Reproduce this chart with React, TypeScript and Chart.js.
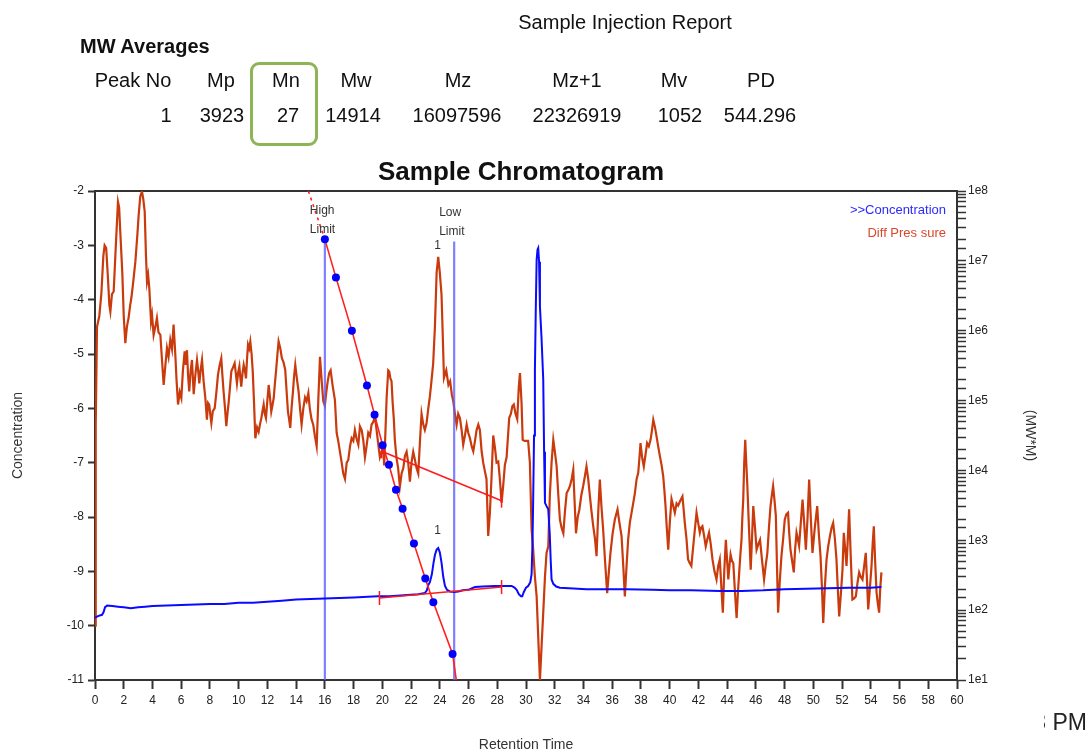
import React, { useEffect, useRef } from 'react';
import { Chart, registerables } from 'chart.js';

Chart.register(...registerables);

// ---------- data ----------
const dpTime = [
  0.00, 0.05, 0.14, 0.30, 0.44, 0.58, 0.67, 0.78, 0.90, 1.00,
  1.07, 1.18, 1.30, 1.45, 1.60, 1.68, 1.76, 1.90, 2.00, 2.11,
  2.22, 2.34, 2.45, 2.53, 2.65, 2.81, 2.95, 3.04, 3.15, 3.27,
  3.36, 3.46, 3.55, 3.62, 3.70, 3.78, 3.90, 3.97, 4.08, 4.20,
  4.31, 4.42, 4.55, 4.66, 4.78, 4.90, 5.01, 5.12, 5.24, 5.36,
  5.47, 5.59, 5.68, 5.78, 5.90, 6.01, 6.12, 6.24, 6.32, 6.40,
  6.48, 6.56, 6.66, 6.75, 6.87, 6.98, 7.10, 7.18, 7.26, 7.35,
  7.45, 7.56, 7.68, 7.79, 7.87, 7.95, 8.02, 8.10, 8.20, 8.33,
  8.45, 8.56, 8.68, 8.79, 8.87, 8.95, 9.05, 9.14, 9.22, 9.30,
  9.40, 9.49, 9.60, 9.72, 9.80, 9.88, 9.96, 10.05, 10.12, 10.18,
  10.27, 10.35, 10.43, 10.51, 10.58, 10.65, 10.73, 10.81, 10.90, 10.98,
  11.07, 11.16, 11.28, 11.39, 11.48, 11.58, 11.66, 11.74, 11.82, 11.90,
  12.00, 12.09, 12.18, 12.27, 12.35, 12.44, 12.52, 12.60, 12.70, 12.78,
  12.90, 13.01, 13.12, 13.24, 13.34, 13.43, 13.51, 13.59, 13.68, 13.78,
  13.86, 13.94, 14.05, 14.17, 14.27, 14.38, 14.50, 14.62, 14.73, 14.85,
  14.95, 15.07, 15.19, 15.30, 15.43, 15.55, 15.66, 15.78, 15.89, 16.00,
  16.10, 16.20, 16.30, 16.40, 16.55, 16.70, 16.82, 16.93, 17.05, 17.17,
  17.28, 17.40, 17.52, 17.63, 17.75, 17.86, 17.98, 18.09, 18.20, 18.33,
  18.44, 18.56, 18.68, 18.79, 18.90, 19.02, 19.14, 19.25, 19.37, 19.49,
  19.60, 19.72, 19.83, 19.95, 20.06, 20.13, 20.22, 20.30, 20.41, 20.48,
  20.56, 20.64, 20.72, 20.80, 20.87, 20.99, 21.10, 21.22, 21.34, 21.46,
  21.57, 21.69, 21.80, 21.92, 22.03, 22.15, 22.27, 22.38, 22.50, 22.62,
  22.73, 22.85, 22.96, 23.08, 23.20, 23.31, 23.42, 23.54, 23.66, 23.78,
  23.89, 24.00, 24.12, 24.20, 24.29, 24.45, 24.60, 24.72, 24.84, 24.94,
  25.05, 25.17, 25.28, 25.40, 25.52, 25.63, 25.75, 25.87, 25.98, 26.10,
  26.22, 26.33, 26.45, 26.56, 26.68, 26.79, 26.91, 27.02, 27.14, 27.25,
  27.37, 27.49, 27.60, 27.72, 27.84, 27.95, 28.07, 28.18, 28.30, 28.42,
  28.53, 28.65, 28.75, 28.83, 28.95, 29.05, 29.15, 29.27, 29.39, 29.50,
  29.58, 29.69, 29.77, 29.90, 30.04, 30.15, 30.27, 30.39, 30.50, 30.62,
  30.74, 30.85, 30.97, 31.08, 31.20, 31.32, 31.43, 31.55, 31.66, 31.78,
  31.90, 32.01, 32.13, 32.25, 32.36, 32.48, 32.60, 32.71, 32.83, 32.95,
  33.06, 33.18, 33.29, 33.38, 33.48, 33.60, 33.71, 33.85, 33.98, 34.10,
  34.21, 34.33, 34.45, 34.56, 34.68, 34.80, 34.91, 35.03, 35.14, 35.25,
  35.37, 35.50, 35.65, 35.77, 35.88, 36.03, 36.18, 36.28, 36.37, 36.50,
  36.65, 36.77, 36.88, 37.00, 37.11, 37.23, 37.35, 37.46, 37.58, 37.70,
  37.81, 37.90, 37.97, 38.08, 38.20, 38.32, 38.43, 38.55, 38.67, 38.77,
  38.86, 38.98, 39.09, 39.20, 39.32, 39.44, 39.55, 39.63, 39.71, 39.80,
  39.90, 40.01, 40.13, 40.25, 40.36, 40.48, 40.59, 40.74, 40.89, 40.97,
  41.05, 41.17, 41.28, 41.40, 41.51, 41.69, 41.87, 41.98, 42.10, 42.18,
  42.28, 42.40, 42.51, 42.63, 42.74, 42.86, 42.98, 43.12, 43.26, 43.38,
  43.49, 43.60, 43.70, 43.80, 43.91, 44.00, 44.08, 44.16, 44.24, 44.33,
  44.43, 44.55, 44.66, 44.75, 44.84, 44.92, 45.00, 45.06, 45.12, 45.19,
  45.26, 45.33, 45.40, 45.52, 45.64, 45.73, 45.82, 45.94, 46.05, 46.17,
  46.29, 46.43, 46.57, 46.68, 46.80, 46.91, 47.02, 47.11, 47.20, 47.30,
  47.39, 47.47, 47.55, 47.66, 47.78, 47.90, 48.01, 48.12, 48.24, 48.32,
  48.41, 48.52, 48.64, 48.73, 48.83, 48.92, 49.01, 49.13, 49.25, 49.36,
  49.48, 49.60, 49.71, 49.82, 49.94, 50.10, 50.27, 50.38, 50.50, 50.60,
  50.69, 50.80, 50.92, 51.03, 51.15, 51.27, 51.38, 51.50, 51.61, 51.70,
  51.80, 51.92, 52.03, 52.12, 52.22, 52.31, 52.40, 52.49, 52.60, 52.72,
  52.84, 52.96, 53.08, 53.19, 53.30, 53.42, 53.54, 53.65, 53.74, 53.82,
  53.94, 54.05, 54.13, 54.21, 54.30, 54.40, 54.49, 54.58, 54.66, 54.74,
];
const dpValue = [
  -10.0, -6.3, -4.5, -4.3, -3.9, -3.2, -3.0, -3.05, -3.6, -4.1,
  -4.22, -3.9, -3.85, -3.0, -2.2, -2.3, -2.75, -3.5, -4.3, -4.8,
  -4.5, -4.33, -4.1, -3.97, -3.7, -3.3, -2.8, -2.44, -2.1, -2.01,
  -2.15, -2.38, -3.2, -3.67, -3.55, -3.79, -4.4, -4.28, -4.65, -4.5,
  -4.34, -4.6, -4.65, -5.1, -5.57, -5.2, -4.89, -5.05, -4.74, -4.91,
  -4.46, -5.01, -5.5, -5.93, -5.7, -5.81, -5.3, -4.95, -5.2, -4.93,
  -5.4, -5.69, -5.3, -5.11, -5.74, -5.4, -5.11, -5.3, -5.54, -5.3,
  -5.11, -5.5, -5.81, -6.21, -5.9, -5.93, -6.1, -6.27, -6.05, -6.0,
  -5.7, -5.38, -5.2, -5.08, -5.4, -5.69, -6.0, -6.33, -6.1, -5.9,
  -5.6, -5.32, -5.25, -5.17, -5.35, -5.54, -5.35, -5.23, -5.45, -5.6,
  -5.35, -5.2, -5.3, -5.45, -5.1, -4.83, -4.9, -4.77, -5.0, -5.32,
  -5.9, -6.55, -6.35, -6.43, -6.3, -6.18, -6.05, -5.93, -6.1, -6.18,
  -5.85, -5.57, -5.8, -6.06, -5.95, -5.81, -5.55, -5.32, -5.0, -4.77,
  -4.9, -5.08, -5.15, -5.29, -5.7, -6.06, -6.2, -6.36, -6.0, -5.69,
  -5.4, -5.2, -5.45, -5.69, -6.0, -6.3, -6.0, -5.8, -5.87, -5.72,
  -6.0, -6.2, -6.3, -6.5, -6.7, -5.8, -5.05, -5.5, -5.87, -5.95,
  -5.7, -5.5, -5.35, -5.3, -5.6, -5.85, -6.45, -6.6, -6.8, -7.0,
  -7.2, -7.3, -7.0, -6.95, -6.7, -6.55, -6.6, -6.4, -6.55, -6.67,
  -6.33, -6.4, -6.6, -6.9, -6.7, -6.45, -6.51, -6.3, -6.25, -6.15,
  -6.4, -6.67, -6.9, -6.8, -6.75, -7.05, -6.4, -5.8, -5.3, -5.32,
  -5.45, -5.5, -5.9, -6.2, -6.58, -6.92, -7.1, -7.44, -7.2, -7.1,
  -6.88, -6.8, -7.0, -7.35, -7.0, -6.8, -6.95, -7.1, -7.2, -6.6,
  -6.1, -6.3, -6.4, -6.27, -6.0, -5.78, -5.5, -5.17, -4.5, -3.5,
  -3.21, -3.5, -3.91, -4.6, -5.44, -5.3, -5.57, -5.5, -5.75, -5.87,
  -6.1, -6.3, -6.1, -6.18, -6.4, -6.67, -6.5, -6.3, -6.45, -6.55,
  -6.7, -6.79, -6.6, -6.4, -6.3, -6.4, -6.79, -7.0, -7.16, -7.3,
  -8.35, -7.9, -7.28, -6.5, -6.73, -7.0, -6.98, -7.3, -7.74, -7.4,
  -7.04, -6.9, -6.5, -6.18, -6.1, -5.96, -5.93, -6.1, -6.2, -5.6,
  -5.35, -5.9, -6.58, -6.6, -6.6, -6.6, -7.0, -8.23, -8.6, -9.1,
  -9.46, -10.2, -11.0, -10.4, -9.76, -9.1, -8.66, -8.54, -7.6, -7.0,
  -6.58, -6.8, -7.06, -7.6, -8.05, -8.2, -8.3, -7.9, -7.56, -7.5,
  -7.43, -7.3, -7.13, -7.7, -8.3, -8.0, -7.87, -7.6, -7.43, -7.25,
  -7.07, -7.3, -7.62, -7.9, -8.17, -8.4, -8.72, -7.9, -7.31, -7.8,
  -8.23, -8.8, -9.4, -9.0, -8.66, -8.3, -8.05, -7.95, -7.86, -8.1,
  -8.35, -8.9, -9.46, -8.9, -8.41, -8.1, -7.92, -7.75, -7.56, -7.3,
  -7.19, -6.9, -6.64, -6.9, -7.07, -6.85, -6.64, -6.7, -6.58, -6.4,
  -6.21, -6.35, -6.52, -6.7, -6.88, -7.05, -7.25, -7.5, -7.79, -8.2,
  -8.6, -8.1, -7.67, -7.8, -7.92, -7.75, -7.79, -7.7, -7.62, -7.85,
  -8.1, -8.4, -8.78, -8.85, -8.9, -8.4, -7.92, -8.1, -8.29, -8.2,
  -8.17, -8.35, -8.54, -8.4, -8.29, -8.5, -8.78, -9.0, -9.15, -8.9,
  -8.78, -9.3, -9.76, -9.0, -8.42, -8.8, -9.15, -8.9, -8.69, -8.8,
  -8.85, -9.4, -9.86, -9.4, -9.02, -8.7, -8.42, -8.0, -7.68, -7.0,
  -6.58, -7.0, -7.38, -8.2, -8.97, -8.4, -7.8, -8.2, -8.6, -8.5,
  -8.42, -8.8, -9.15, -8.9, -8.66, -8.2, -7.8, -7.6, -7.43, -7.7,
  -7.98, -8.9, -9.76, -9.2, -8.72, -8.4, -8.05, -7.95, -7.92, -8.3,
  -8.6, -8.8, -9.02, -8.6, -8.29, -8.4, -8.53, -8.1, -7.68, -8.1,
  -8.6, -8.0, -7.31, -8.0, -8.66, -8.2, -7.8, -8.3, -8.72, -9.3,
  -9.95, -9.3, -8.78, -8.55, -8.36, -8.2, -8.11, -8.4, -8.78, -9.3,
  -9.83, -9.4, -8.97, -8.29, -8.6, -8.9, -8.4, -7.86, -8.7, -9.52,
  -9.5, -9.46, -9.2, -9.02, -9.1, -9.15, -8.9, -8.66, -9.2, -9.7,
  -9.3, -8.9, -8.5, -8.17, -8.8, -9.39, -9.6, -9.76, -9.3, -9.02,
];

const concTime = [
  0.00, 0.25, 0.49, 0.60, 0.70, 0.85, 1.20, 1.60, 2.00, 2.50,
  3.00, 3.50, 4.00, 5.00, 6.00, 7.00, 8.00, 9.00, 10.00, 11.00,
  12.00, 13.00, 14.00, 15.00, 16.00, 17.00, 18.00, 19.00, 19.70, 20.50,
  21.50, 22.50, 22.96, 23.10, 23.20, 23.31, 23.45, 23.56, 23.66, 23.78,
  23.89, 24.00, 24.12, 24.24, 24.36, 24.50, 24.71, 25.00, 25.29, 25.60,
  25.98, 26.45, 27.00, 27.84, 28.50, 29.00, 29.20, 29.35, 29.50, 29.65,
  29.74, 29.85, 30.00, 30.15, 30.30, 30.39, 30.45, 30.50, 30.56, 30.62,
  30.68, 30.74, 30.80, 30.85, 30.91, 30.97, 31.08, 31.20, 31.26, 31.32,
  31.43, 31.55, 31.65, 31.72, 31.78, 31.90, 32.10, 32.36, 33.00, 34.20,
  35.50, 37.00, 38.80, 40.00, 41.50, 43.50, 45.00, 46.50, 48.00, 49.50,
  51.00, 52.50, 54.00, 54.74,
];
const concValue = [
  -9.85, -9.82, -9.80, -9.75, -9.66, -9.63, -9.64, -9.65, -9.66, -9.68,
  -9.66, -9.65, -9.64, -9.63, -9.62, -9.61, -9.60, -9.60, -9.58, -9.58,
  -9.56, -9.54, -9.52, -9.51, -9.50, -9.49, -9.48, -9.47, -9.46, -9.46,
  -9.44, -9.42, -9.40, -9.35, -9.25, -9.20, -9.05, -8.85, -8.70, -8.60,
  -8.57, -8.65, -8.84, -9.10, -9.27, -9.34, -9.37, -9.38, -9.37, -9.35,
  -9.34, -9.29, -9.28, -9.27, -9.27, -9.27, -9.30, -9.34, -9.42, -9.46,
  -9.46, -9.38, -9.30, -9.27, -9.20, -9.05, -8.50, -7.68, -6.50, -5.29,
  -4.20, -3.27, -3.08, -3.05, -3.30, -4.13, -4.70, -5.47, -6.80, -7.74,
  -7.80, -7.86, -8.30, -8.80, -9.15, -9.23, -9.28, -9.30, -9.31, -9.33,
  -9.33, -9.33, -9.34, -9.35, -9.35, -9.36, -9.36, -9.35, -9.33, -9.32,
  -9.31, -9.30, -9.30, -9.29,
];

// calibration curve (log MW mapped onto the chart) and its calibration points
const calDashTime = [14.85, 16.0];
const calDashValue = [-2.0, -2.89];
const calTime = [16.0, 16.77, 17.88, 18.93, 19.46, 20.02, 20.46, 20.95, 21.41, 22.2, 22.99, 23.55, 24.89, 25.15];
const calValue = [-2.89, -3.59, -4.57, -5.58, -6.12, -6.68, -7.04, -7.5, -7.85, -8.49, -9.13, -9.57, -10.52, -11.0];
const dotTime = [16.0, 16.77, 17.88, 18.93, 19.46, 20.02, 20.46, 20.95, 21.41, 22.2, 22.99, 23.55, 24.89];
const dotValue = [-2.89, -3.59, -4.57, -5.58, -6.12, -6.68, -7.04, -7.5, -7.85, -8.49, -9.13, -9.57, -10.52];

// integration limits
const limitNames = ['High', 'Low'];
const limitTime = [16.0, 25.0];
const limitTop = [-2.89, -2.93];

// peak baselines
const concBaseTime = [19.8, 28.3];
const concBaseValue = [-9.49, -9.29];
const dpBaseTime = [19.95, 28.3];
const dpBaseValue = [-6.79, -7.7];

// peak labels
const peakLabelTime = [23.85, 23.85];
const peakLabelValue = [-3.0, -8.25];
const peakLabelText = ['1', '1'];

// MW averages table
const mwHeaders = ['Peak No', 'Mp', 'Mn', 'Mw', 'Mz', 'Mz+1', 'Mv', 'PD'];
const mwValues = ['1', '3923', '27', '14914', '16097596', '22326919', '1052', '544.296'];

const pts = (ts: number[], vs: number[]) => ts.map((t, i) => ({ x: t, y: vs[i] }));

const FONT = "'Liberation Sans', Arial, Helvetica, sans-serif";

const annotations = {
  id: 'annotations',
  beforeDatasetsDraw(chart: any) {
    const { ctx, chartArea } = chart;
    ctx.save();
    ctx.strokeStyle = '#333';
    ctx.lineWidth = 2;
    ctx.beginPath();
    ctx.moveTo(chartArea.left, chartArea.top);
    ctx.lineTo(chartArea.right, chartArea.top);
    ctx.stroke();
    ctx.restore();
  },
  afterDatasetsDraw(chart: any) {
    const { ctx } = chart;
    const xs = chart.scales.x;
    const ys = chart.scales.y;
    ctx.save();
    ctx.fillStyle = '#333';
    ctx.font = `12px ${FONT}`;
    ctx.textAlign = 'left';
    ctx.textBaseline = 'middle';
    limitNames.forEach((name, i) => {
      const px = xs.getPixelForValue(limitTime[i]) - 15;
      const top = ys.getPixelForValue(limitTop[i]);
      ctx.fillText(name, px, top - 29);
      ctx.fillText('Limit', px, top - 10);
    });
    ctx.textAlign = 'center';
    peakLabelText.forEach((t, i) => {
      ctx.fillText(t, xs.getPixelForValue(peakLabelTime[i]), ys.getPixelForValue(peakLabelValue[i]));
    });
    ctx.restore();
  },
};

function Txt(props: { x: number; y: number; size: number; bold?: boolean; color?: string; sx?: number; children: any; align?: string }) {
  const { x, y, size, bold, color, sx = 1, children, align = 'center' } = props;
  const tx = align === 'center' ? '-50%' : align === 'right' ? '-100%' : '0';
  return (
    <div
      style={{
        position: 'absolute',
        left: x,
        top: y,
        transform: `translate(${tx}, -50%) scaleX(${sx})`,
        transformOrigin: align === 'right' ? 'right center' : align === 'left' ? 'left center' : 'center center',
        fontFamily: FONT,
        fontSize: size,
        fontWeight: bold ? 'bold' : 'normal',
        color: color || '#111',
        whiteSpace: 'nowrap',
        lineHeight: 1,
      }}
    >
      {children}
    </div>
  );
}

const headerX = [133, 221, 286, 356, 458, 577, 674, 761];
const valueX = [166, 222, 288, 353, 457, 577, 680, 760];

export default function App() {
  const canvasRef = useRef<HTMLCanvasElement | null>(null);

  useEffect(() => {
    const canvas = canvasRef.current;
    if (!canvas) return;
    const tickFont = { family: FONT, size: 12 };
    const chart = new Chart(canvas, {
      type: 'scatter',
      data: {
        datasets: [
          {
            label: 'Calibration points',
            data: pts(dotTime, dotValue),
            showLine: false,
            pointRadius: 4,
            pointBackgroundColor: '#0000ff',
            pointBorderColor: '#0000ff',
            pointBorderWidth: 0,
            order: 1,
          },
          {
            label: 'Concentration baseline',
            data: pts(concBaseTime, concBaseValue),
            showLine: true,
            borderColor: '#ff1a1a',
            borderWidth: 1.5,
            pointStyle: 'line',
            rotation: 90,
            pointRadius: 7,
            pointBorderColor: '#ff1a1a',
            pointBorderWidth: 1.5,
            order: 2,
          },
          {
            label: 'Diff pressure baseline',
            data: pts(dpBaseTime, dpBaseValue),
            showLine: true,
            borderColor: '#ff1a1a',
            borderWidth: 1.5,
            pointStyle: 'line',
            rotation: 90,
            pointRadius: 7,
            pointBorderColor: '#ff1a1a',
            pointBorderWidth: 1.5,
            order: 2,
          },
          {
            label: 'Calibration',
            data: pts(calTime, calValue),
            showLine: true,
            borderColor: '#ff2020',
            borderWidth: 1.6,
            pointRadius: 0,
            order: 3,
          },
          {
            label: 'Calibration ext',
            data: pts(calDashTime, calDashValue),
            showLine: true,
            borderColor: '#ff2020',
            borderWidth: 1.6,
            borderDash: [3, 4],
            pointRadius: 0,
            order: 3,
          },
          {
            label: '>>Concentration',
            data: pts(concTime, concValue),
            showLine: true,
            borderColor: '#0a0aff',
            borderWidth: 2,
            pointRadius: 0,
            order: 4,
          },
          ...limitTime.map((t, i) => ({
            label: limitNames[i] + ' Limit',
            data: [
              { x: t, y: limitTop[i] },
              { x: t, y: -11 },
            ],
            showLine: true,
            borderColor: 'rgba(95,95,255,0.8)',
            borderWidth: 2.2,
            pointRadius: 0,
            order: 5,
          })),
          {
            label: 'Diff Pressure',
            data: pts(dpTime, dpValue),
            showLine: true,
            borderColor: '#c93a0d',
            borderWidth: 2.2,
            pointRadius: 0,
            order: 6,
          },
        ],
      },
      options: {
        responsive: false,
        animation: false,
        devicePixelRatio: 1,
        layout: { padding: { top: 191, left: 0, right: 0, bottom: 0 } },
        plugins: {
          legend: { display: false },
          tooltip: { enabled: false },
          title: { display: false },
        },
        elements: { line: { tension: 0 }, point: { radius: 0, hoverRadius: 0 } },
        scales: {
          x: {
            type: 'linear',
            position: 'bottom',
            min: 0,
            max: 60,
            ticks: { stepSize: 2, autoSkip: false, maxRotation: 0, color: '#222', font: tickFont, padding: 4 },
            grid: { drawOnChartArea: false, drawTicks: true, tickLength: 9, tickColor: '#333', tickWidth: 2 },
            border: { display: true, color: '#333', width: 2 },
            title: { display: true, text: 'Retention Time', color: '#333', font: { family: FONT, size: 14 }, padding: { top: 2, bottom: 0 } },
            afterFit: (s: any) => {
              s.height = 74;
            },
          },
          y: {
            type: 'linear',
            position: 'left',
            min: -11,
            max: -2,
            ticks: { stepSize: 1, autoSkip: false, color: '#222', font: tickFont, padding: 4 },
            grid: { drawOnChartArea: false, drawTicks: true, tickLength: 7, tickColor: '#333', tickWidth: 2 },
            border: { display: true, color: '#333', width: 2 },
            title: { display: true, text: 'Concentration', color: '#333', font: { family: FONT, size: 14 }, padding: { top: 10, bottom: 0 } },
            afterFit: (s: any) => {
              s.width = 95;
            },
          },
          y2: {
            type: 'logarithmic',
            position: 'right',
            min: 10,
            max: 1e8,
            ticks: {
              autoSkip: false,
              color: '#222',
              font: { family: FONT, size: 12 },
              padding: 2,
              callback: (v: any) => {
                const val = Number(v);
                const e = Math.round(Math.log10(val));
                return Math.abs(val - Math.pow(10, e)) < 1e-6 * val ? '1e' + e : '';
              },
            },
            grid: { drawOnChartArea: false, drawTicks: true, tickLength: 9, tickColor: '#333', tickWidth: 1.5 },
            border: { display: true, color: '#333', width: 2 },
            title: { display: true, text: '(MW*M)', color: '#333', font: { family: FONT, size: 14 }, padding: { top: 49, bottom: 0 } },
            afterFit: (s: any) => {
              s.width = 130;
            },
          },
        },
      } as any,
      plugins: [annotations],
    });
    return () => chart.destroy();
  }, []);

  return (
    <div style={{ position: 'absolute', left: 0, top: 0, width: 1087, height: 754, overflow: 'hidden', background: '#fff' }}>
      <canvas ref={canvasRef} width={1087} height={754} style={{ position: 'absolute', left: 0, top: 0, width: 1087, height: 754 }} />
      <Txt x={625} y={22} size={20}>Sample Injection Report</Txt>
      <Txt x={80} y={46} size={20} bold align="left">MW Averages</Txt>
      {mwHeaders.map((h, i) => (
        <Txt key={'h' + i} x={headerX[i]} y={80} size={20}>{h}</Txt>
      ))}
      {mwValues.map((v, i) => (
        <Txt key={'v' + i} x={valueX[i]} y={115} size={20}>{v}</Txt>
      ))}
      <div
        style={{
          position: 'absolute',
          left: 250,
          top: 62,
          width: 62,
          height: 78,
          border: '3px solid #8db556',
          borderRadius: 9,
        }}
      />
      <Txt x={521} y={171} size={26} bold>Sample Chromatogram</Txt>
      <Txt x={946} y={209} size={13} color="#2a2aff" align="right">&gt;&gt;Concentration</Txt>
      <Txt x={946} y={232} size={13} color="#d9482a" align="right">Diff Pres sure</Txt>
      <div style={{ position: 'absolute', left: 1044, top: 708, width: 43, height: 30, overflow: 'hidden' }}>
        <div style={{ position: 'absolute', right: 0, top: 3, fontFamily: FONT, fontSize: 23, color: '#222', whiteSpace: 'nowrap', lineHeight: 1 }}>
          3 PM
        </div>
      </div>
    </div>
  );
}
